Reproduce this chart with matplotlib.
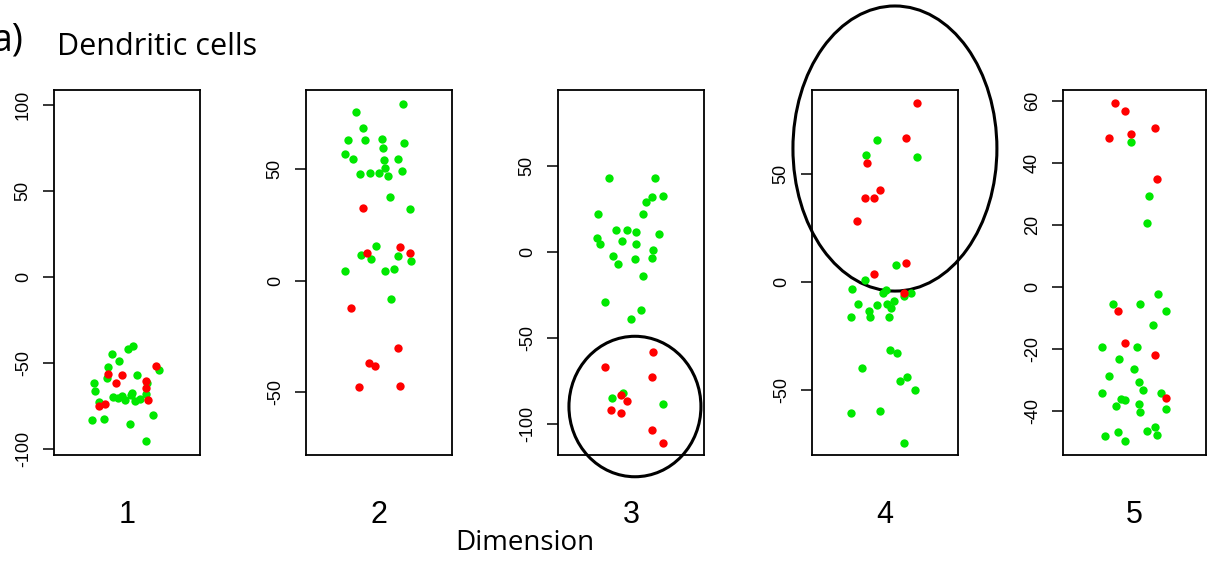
import matplotlib.pyplot as plt
from matplotlib.patches import Ellipse
import numpy as np

# --- DATA (x = jitter position inside each strip, y = value)
d1_green_x = [0.541, 0.509, 0.395, 0.445, 0.368, 0.568, 0.366, 0.273, 0.636, 0.280, 0.630, 0.536, 0.527,
              0.405, 0.436, 0.466, 0.489, 0.552, 0.591, 0.309, 0.716, 0.677, 0.257, 0.341, 0.518, 0.632]
d1_green_y = [-40.0, -41.9, -44.6, -49.0, -52.3, -56.7, -59.0, -61.9, -61.9, -66.3, -67.9, -67.3, -68.8,
              -69.6, -70.2, -69.2, -71.7, -72.1, -70.8, -72.7, -54.2, -80.4, -83.1, -82.7, -85.6, -95.2]
d1_red_x = [0.373, 0.466, 0.423, 0.630, 0.630, 0.641, 0.700, 0.309, 0.348]
d1_red_y = [-56.5, -56.7, -61.9, -60.2, -64.8, -71.5, -51.9, -75.0, -74.0]

d2_green_x = [0.664, 0.342, 0.393, 0.290, 0.404, 0.518, 0.674, 0.269, 0.322, 0.527, 0.532, 0.632, 0.541,
              0.655, 0.559, 0.372, 0.436, 0.500, 0.578, 0.710, 0.477, 0.374, 0.445, 0.632, 0.717, 0.269,
              0.539, 0.600, 0.582]
d2_green_y = [79.5, 75.5, 68.5, 63.0, 63.0, 63.7, 61.7, 56.9, 54.7, 59.5, 54.2, 54.8, 50.6,
              49.2, 47.0, 47.9, 48.2, 48.5, 37.7, 32.1, 15.7, 11.4, 9.5, 11.0, 8.7, 4.1,
              4.1, 5.3, -8.3]
d2_red_x = [0.388, 0.644, 0.715, 0.418, 0.311, 0.632, 0.431, 0.475, 0.361, 0.644]
d2_red_y = [32.7, 15.1, 12.3, 12.3, -12.5, -30.3, -36.9, -38.4, -48.0, -47.4]

d3_green_x = [0.349, 0.662, 0.717, 0.644, 0.600, 0.274, 0.582, 0.400, 0.474, 0.536, 0.690, 0.264, 0.287,
              0.441, 0.531, 0.653, 0.379, 0.644, 0.524, 0.414, 0.582, 0.320, 0.570, 0.497, 0.370, 0.444,
              0.717]
d3_green_y = [43.4, 43.4, 32.9, 31.9, 29.4, 22.4, 22.4, 12.8, 12.6, 11.7, 10.3, 8.4, 4.5,
              6.6, 4.9, 1.0, -2.1, -3.3, -4.1, -7.0, -14.0, -29.0, -33.5, -38.7, -84.6, -82.1,
              -88.3]
d3_red_x = [0.653, 0.320, 0.644, 0.434, 0.476, 0.361, 0.434, 0.644, 0.717]
d3_red_y = [-58.2, -67.1, -72.4, -83.1, -86.6, -91.8, -93.8, -103.5, -111.3]

d4_green_x = [0.442, 0.371, 0.716, 0.572, 0.366, 0.277, 0.506, 0.487, 0.675, 0.629, 0.561, 0.318, 0.515,
              0.442, 0.540, 0.391, 0.265, 0.400, 0.529, 0.535, 0.579, 0.341, 0.602, 0.652, 0.703, 0.268,
              0.465, 0.629]
d4_green_y = [65.8, 58.8, 58.0, 8.0, 1.1, -3.1, -3.6, -5.1, -5.0, -6.2, -8.8, -10.1, -10.1,
              -10.4, -11.9, -13.2, -15.9, -15.9, -15.9, -31.3, -32.8, -39.8, -45.7, -44.1, -49.8, -60.4,
              -59.6, -74.5]
d4_red_x = [0.716, 0.641, 0.380, 0.465, 0.362, 0.423, 0.309, 0.641, 0.423, 0.629]
d4_red_y = [82.8, 66.6, 55.3, 42.6, 39.0, 39.0, 28.5, 8.7, 3.9, -5.0]

d5_green_x = [0.478, 0.602, 0.584, 0.664, 0.352, 0.540, 0.719, 0.632, 0.270, 0.519, 0.394, 0.497, 0.320,
              0.529, 0.561, 0.270, 0.684, 0.403, 0.435, 0.371, 0.529, 0.719, 0.540, 0.584, 0.643, 0.384,
              0.654, 0.291, 0.435]
d5_green_y = [46.8, 29.4, 20.5, -2.3, -5.4, -5.4, -7.8, -12.2, -19.4, -19.4, -23.4, -26.4, -28.7,
              -30.7, -33.1, -34.1, -34.1, -36.0, -36.5, -38.5, -37.9, -39.4, -40.4, -46.3, -45.3, -46.7,
              -47.8, -48.2, -49.7]
d5_red_x = [0.362, 0.435, 0.645, 0.478, 0.320, 0.654, 0.384, 0.435, 0.645, 0.719]
d5_red_y = [59.2, 56.7, 51.3, 49.4, 47.9, 34.7, -7.8, -18.0, -21.9, -35.7]

DIM_LABELS = ["1", "2", "3", "4", "5"]
YTICKS = [[-100, -50, 0, 50, 100], [-50, 0, 50], [-100, -50, 0, 50], [-50, 0, 50], [-40, -20, 0, 20, 40, 60]]
YLIMS = [(-103.5, 108.7), (-78.4, 85.6), (-118, 94.3), (-80, 89), (-54.2, 63.5)]

GREEN = '#00e800'
RED = '#ff0000'

# --- FIGURE
W, H = 1209, 563
fig = plt.figure(figsize=(W / 100, H / 100), dpi=100)

box_left = [54, 306, 558, 812, 1063]
box_w = [146, 146, 146, 146, 143]
box_top, box_bot = 90, 455

panels = [(d1_green_x, d1_green_y, d1_red_x, d1_red_y),
          (d2_green_x, d2_green_y, d2_red_x, d2_red_y),
          (d3_green_x, d3_green_y, d3_red_x, d3_red_y),
          (d4_green_x, d4_green_y, d4_red_x, d4_red_y),
          (d5_green_x, d5_green_y, d5_red_x, d5_red_y)]

axes = []
for i, (gx, gy, rx, ry) in enumerate(panels):
    ax = fig.add_axes([box_left[i] / W, 1 - box_bot / H, box_w[i] / W, (box_bot - box_top) / H])
    ax.plot(gx, gy, 'o', color=GREEN, ms=6, mec='none')
    ax.plot(rx, ry, 'o', color=RED, ms=6, mec='none')
    ax.set_xlim(0, 1)
    ax.set_ylim(*YLIMS[i])
    ax.set_xticks([])
    ax.set_yticks(YTICKS[i])
    ax.set_yticklabels([str(t) for t in YTICKS[i]], rotation=90, va='center',
                       family='Liberation Sans', fontsize=13)
    ax.tick_params(axis='y', length=8, width=1.1, pad=8, direction='out')
    for s in ax.spines.values():
        s.set_linewidth(1.3)
    fig.text((box_left[i] + box_w[i] / 2) / W, 1 - 515 / H, DIM_LABELS[i],
             ha='center', va='center', family='Liberation Sans', fontsize=22)
    axes.append(ax)

# highlight ellipses
axes[2].add_patch(Ellipse((0.527, -89.8), 0.904, 81.7, fill=False, lw=2.2, ec='k', clip_on=False))
axes[3].add_patch(Ellipse((0.568, 61.9), 1.397, 132, fill=False, lw=2.2, ec='k', clip_on=False))

fig.text(525 / W, 1 - 543 / H, "Dimension", ha='center', va='center', family='Open Sans', fontsize=20)
fig.text(23 / W, 1 - 50 / H, "a)", ha='right', va='baseline', family='Open Sans', fontsize=27)
fig.text(57 / W, 1 - 55 / H, "Dendritic cells", ha='left', va='baseline', family='Open Sans', fontsize=22)
fig.text(23 / W, 1 - 595 / H, "b)", ha='right', va='baseline', family='Open Sans', fontsize=27)

fig.savefig("out.png", dpi=100)
